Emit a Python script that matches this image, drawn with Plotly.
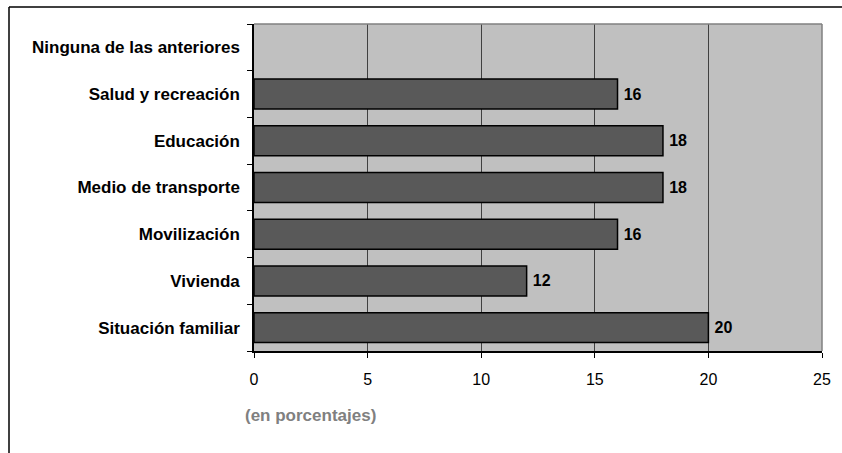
import plotly.graph_objects as go

categories = ["Situación familiar", "Vivienda", "Movilización", "Medio de transporte",
              "Educación", "Salud y recreación", "Ninguna de las anteriores"]
values = [20, 12, 16, 18, 18, 16, None]
x_ticks = [0, 5, 10, 15, 20, 25]

W, H = 842, 453
L, R, T, B = 254, 20, 24, 102
pw, ph = W - L - R, H - T - B

def px(x):
    return (x - L) / pw

def py(y):
    return (H - B - y) / ph

labels = ["" if v is None else "\u2009" + str(v) for v in values]

fig = go.Figure()
fig.add_trace(go.Bar(
    y=categories, x=values, orientation="h",
    marker=dict(color="#595959", line=dict(color="#000000", width=1.5)),
    width=0.64,
    text=labels, textposition="outside",
    textfont=dict(family="Liberation Sans, Arial", size=16, color="#000000", weight="bold"),
    cliponaxis=False,
    hoverinfo="skip",
))

fig.update_layout(
    width=W, height=H,
    margin=dict(l=L, r=R, t=T, b=B),
    paper_bgcolor="#ffffff",
    plot_bgcolor="#c0c0c0",
    showlegend=False,
    font=dict(family="Liberation Sans, Arial", color="#000000"),
    xaxis=dict(
        range=[0, 25], tickvals=x_ticks, ticktext=[str(t) for t in x_ticks],
        showgrid=True, gridcolor="#404040", gridwidth=1,
        showline=True, linecolor="#000000", linewidth=1.5,
        ticks="outside", ticklen=5, tickcolor="#000000", tickwidth=1,
        tickfont=dict(size=16, color="#000000"),
        ticklabelstandoff=8,
        zeroline=False, fixedrange=True,
    ),
    yaxis=dict(
        categoryorder="array", categoryarray=categories,
        showgrid=False, zeroline=False,
        showline=True, linecolor="#000000", linewidth=1.5,
        ticks="outside", ticklen=5, tickcolor="#000000", tickwidth=1,
        tickson="boundaries",
        tickfont=dict(size=17, color="#000000", weight="bold"),
        ticklabelstandoff=9,
        fixedrange=True,
    ),
    shapes=[
        dict(type="line", xref="paper", yref="paper", x0=1, x1=1, y0=0, y1=1,
             line=dict(color="#808080", width=1.5), layer="above"),
        dict(type="line", xref="paper", yref="paper", x0=0, x1=1, y0=1, y1=1,
             line=dict(color="#808080", width=1.5), layer="above"),
        dict(type="line", xref="paper", yref="paper", x0=px(9), x1=px(845), y0=py(7), y1=py(7),
             line=dict(color="#000000", width=1.5)),
        dict(type="line", xref="paper", yref="paper", x0=px(9), x1=px(9), y0=py(7), y1=py(456),
             line=dict(color="#000000", width=1.5)),
    ],
    annotations=[
        dict(text="<b>(en porcentajes)</b>", xref="paper", yref="paper",
             x=px(243), y=py(415), xanchor="left", yanchor="middle", showarrow=False,
             font=dict(size=17, color="#808080", family="Liberation Sans, Arial")),
    ],
)

fig.write_html("out.html")
